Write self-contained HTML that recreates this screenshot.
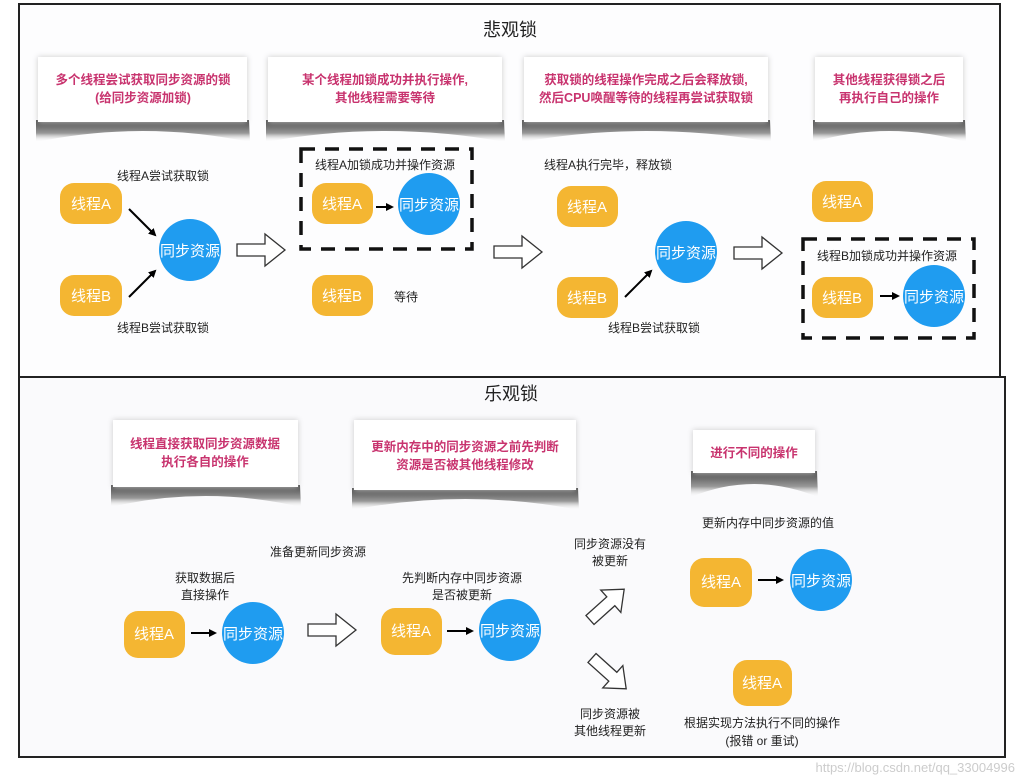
<!DOCTYPE html>
<html><head><meta charset="utf-8"><style>
html,body{margin:0;padding:0;background:#fff}
svg{display:block}
text{font-family:"Liberation Sans","Noto Sans CJK SC",sans-serif}
</style></head><body>
<svg width="1027" height="781" viewBox="0 0 1027 781" xmlns="http://www.w3.org/2000/svg">
<defs>
<linearGradient id="sh" x1="0" y1="0" x2="0" y2="1">
<stop offset="0" stop-color="#444"/><stop offset="0.6" stop-color="#999"/><stop offset="1" stop-color="#fff" stop-opacity="0"/>
</linearGradient>
<marker id="ah" markerWidth="8" markerHeight="8" refX="6" refY="4" orient="auto" markerUnits="userSpaceOnUse"><path d="M0,0 L8,4 L0,8 z" fill="#000"/></marker>
<g id="bigarrow"><path d="M0,-6 L28,-6 L28,-16 L48,0 L28,16 L28,6 L0,6 z" fill="#fff" stroke="#333" stroke-width="1.3"/></g>
</defs>
<rect x="0" y="0" width="1027" height="781" fill="#fff"/>
<rect x="19" y="4" width="981" height="373" fill="#fdfdfe" stroke="#222" stroke-width="2"/>
<rect x="19" y="377" width="986" height="380" fill="#fafafc" stroke="#222" stroke-width="2"/>

<g font-size="18" fill="#222" text-anchor="middle">
<text x="510" y="36">悲观锁</text>
<text x="511" y="400">乐观锁</text>
</g>

<g>
<path d="M36,120 L249,120 L250,142 Q142,120 36,142 z" fill="url(#sh)"/>
<rect x="38" y="57" width="209" height="65" fill="#fff" style="filter:drop-shadow(0 0 3px #ccc)"/>
<path d="M266,120 L504,120 L505,142 Q385,120 266,142 z" fill="url(#sh)"/>
<rect x="268" y="57" width="234" height="65" fill="#fff" style="filter:drop-shadow(0 0 3px #ccc)"/>
<path d="M522,120 L770,120 L771,142 Q646,120 522,142 z" fill="url(#sh)"/>
<rect x="524" y="57" width="244" height="65" fill="#fff" style="filter:drop-shadow(0 0 3px #ccc)"/>
<path d="M813,120 L965,120 L966,142 Q889,120 813,142 z" fill="url(#sh)"/>
<rect x="815" y="57" width="148" height="65" fill="#fff" style="filter:drop-shadow(0 0 3px #ccc)"/>
</g>
<g font-size="12.5" fill="#c8336e" text-anchor="middle" font-weight="bold">
<text x="143" y="84">多个线程尝试获取同步资源的锁</text>
<text x="143" y="102">(给同步资源加锁)</text>
<text x="385" y="84">某个线程加锁成功并执行操作,</text>
<text x="385" y="102">其他线程需要等待</text>
<text x="646" y="84">获取锁的线程操作完成之后会释放锁,</text>
<text x="646" y="102">然后CPU唤醒等待的线程再尝试获取锁</text>
<text x="889" y="84">其他线程获得锁之后</text>
<text x="889" y="102">再执行自己的操作</text>
</g>

<g>
<path d="M111,485 L300,485 L301,507 Q205,485 111,507 z" fill="url(#sh)"/>
<rect x="113" y="420" width="185" height="67" fill="#fff" style="filter:drop-shadow(0 0 3px #ccc)"/>
<path d="M352,488 L578,488 L579,510 Q465,488 352,510 z" fill="url(#sh)"/>
<rect x="354" y="420" width="222" height="70" fill="#fff" style="filter:drop-shadow(0 0 3px #ccc)"/>
<path d="M691,471 L817,471 L818,497 Q754,471 691,497 z" fill="url(#sh)"/>
<rect x="693" y="430" width="122" height="43" fill="#fff" style="filter:drop-shadow(0 0 3px #ccc)"/>
</g>
<g font-size="12.5" fill="#c8336e" text-anchor="middle" font-weight="bold">
<text x="205" y="448">线程直接获取同步资源数据</text>
<text x="205" y="466">执行各自的操作</text>
<text x="465" y="451">更新内存中的同步资源之前先判断</text>
<text x="465" y="469">资源是否被其他线程修改</text>
<text x="754" y="457">进行不同的操作</text>
</g>

<g fill="#f4b632">
<rect x="60" y="183" width="62" height="41" rx="14"/>
<rect x="60" y="275" width="62" height="41" rx="14"/>
<rect x="312" y="183" width="61" height="41" rx="14"/>
<rect x="312" y="275" width="61" height="41" rx="14"/>
<rect x="557" y="186" width="61" height="41" rx="14"/>
<rect x="557" y="277" width="61" height="41" rx="14"/>
<rect x="812" y="181" width="61" height="41" rx="14"/>
<rect x="812" y="277" width="61" height="41" rx="14"/>
<rect x="124" y="611" width="61" height="47" rx="14"/>
<rect x="381" y="608" width="61" height="47" rx="14"/>
<rect x="690" y="558" width="62" height="49" rx="14"/>
<rect x="733" y="660" width="59" height="46" rx="14"/>
</g>
<g fill="#1f9cf0">
<circle cx="190" cy="250" r="31"/>
<circle cx="429" cy="204" r="31"/>
<circle cx="686" cy="252" r="31"/>
<circle cx="934" cy="296" r="31"/>
<ellipse cx="253" cy="633" rx="31" ry="31"/>
<ellipse cx="510" cy="630" rx="31" ry="31"/>
<ellipse cx="821" cy="580" rx="31" ry="31"/>
</g>
<g font-size="15" fill="#fff" text-anchor="middle">
<text x="91" y="209">线程A</text><text x="91" y="301">线程B</text>
<text x="342" y="209">线程A</text><text x="342" y="301">线程B</text>
<text x="587" y="212">线程A</text><text x="587" y="303">线程B</text>
<text x="842" y="207">线程A</text><text x="842" y="303">线程B</text>
<text x="154" y="639">线程A</text><text x="411" y="636">线程A</text>
<text x="721" y="587">线程A</text><text x="762" y="688">线程A</text>
<text x="190" y="256">同步资源</text><text x="429" y="210">同步资源</text>
<text x="686" y="258">同步资源</text><text x="934" y="302">同步资源</text>
<text x="253" y="639">同步资源</text><text x="510" y="636">同步资源</text>
<text x="821" y="586">同步资源</text>
</g>

<g stroke="#000" stroke-width="2" marker-end="url(#ah)">
<line x1="129" y1="209" x2="155" y2="235"/>
<line x1="129" y1="297" x2="155" y2="271"/>
<line x1="376" y1="207" x2="392" y2="207"/>
<line x1="625" y1="297" x2="651" y2="271"/>
<line x1="880" y1="296" x2="898" y2="296"/>
<line x1="191" y1="633" x2="215" y2="633"/>
<line x1="447" y1="631" x2="472" y2="631"/>
<line x1="758" y1="580" x2="782" y2="580"/>
</g>

<use href="#bigarrow" x="237" y="250"/>
<use href="#bigarrow" x="494" y="252"/>
<use href="#bigarrow" x="734" y="253"/>
<use href="#bigarrow" x="308" y="630"/>
<g transform="translate(590,620) rotate(-42)"><path d="M0,-6 L28,-6 L28,-15 L46,0 L28,15 L28,6 L0,6 z" fill="#fff" stroke="#333" stroke-width="1.3"/></g>
<g transform="translate(592,658) rotate(42)"><path d="M0,-6 L28,-6 L28,-15 L46,0 L28,15 L28,6 L0,6 z" fill="#fff" stroke="#333" stroke-width="1.3"/></g>

<g fill="none" stroke="#111" stroke-width="3.5" stroke-dasharray="14,10">
<rect x="301" y="149" width="171" height="100"/>
<rect x="803" y="239" width="171" height="99"/>
</g>

<g font-size="12" fill="#222" text-anchor="middle">
<text x="163" y="180">线程A尝试获取锁</text>
<text x="163" y="332">线程B尝试获取锁</text>
<text x="385" y="169">线程A加锁成功并操作资源</text>
<text x="406" y="301">等待</text>
<text x="608" y="169">线程A执行完毕，释放锁</text>
<text x="654" y="332">线程B尝试获取锁</text>
<text x="887" y="260">线程B加锁成功并操作资源</text>
<text x="318" y="556">准备更新同步资源</text>
<text x="205" y="582">获取数据后</text>
<text x="205" y="599">直接操作</text>
<text x="462" y="582">先判断内存中同步资源</text>
<text x="462" y="599">是否被更新</text>
<text x="610" y="548">同步资源没有</text>
<text x="610" y="565">被更新</text>
<text x="768" y="527">更新内存中同步资源的值</text>
<text x="610" y="718">同步资源被</text>
<text x="610" y="735">其他线程更新</text>
<text x="762" y="727">根据实现方法执行不同的操作</text>
<text x="762" y="745">(报错 or 重试)</text>
</g>
<text x="1015" y="772" font-size="13" fill="#ccc" text-anchor="end">https://blog.csdn.net/qq_33004996</text>
</svg>
</body></html>
